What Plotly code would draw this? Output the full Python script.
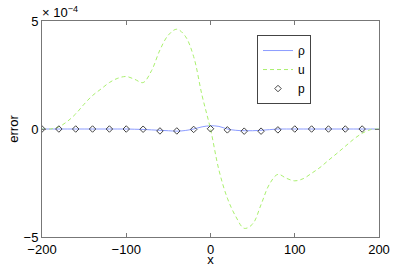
import plotly.graph_objects as go

# data (values in units of 1e-4)
x_line = [-200, -190, -180, -170, -160, -150, -140, -130, -120, -110, -100, -90, -80, -70,
          -60, -50, -40, -30, -20, -10, 0, 10, 20, 30, 40, 50, 60, 70, 80, 90, 100,
          110, 120, 130, 140, 150, 160, 170, 180, 190, 200]
u_vals = [0.0, 0.0, 0.1, 0.35, 0.7, 1.15, 1.55, 1.85, 2.15, 2.35, 2.43, 2.3, 2.15, 2.7,
          3.66, 4.35, 4.62, 4.3, 3.35, 1.55, 0.0, -1.9, -3.2, -4.05, -4.6, -4.4, -3.5, -2.55, -2.1, -2.28, -2.4,
          -2.3, -2.05, -1.78, -1.45, -1.13, -0.8, -0.47, -0.2, -0.03, 0.0]
rho_vals = [0, 0, 0, 0, 0, 0, 0, 0, 0, 0, 0, -0.01, -0.02, -0.04,
            -0.06, -0.08, -0.1, -0.07, 0.0, 0.1, 0.15, 0.12, 0.0, -0.06, -0.08, -0.08, -0.06, -0.03, 0.0, 0.0, 0.0,
            0, 0, 0, 0, 0, 0, 0, 0, 0, 0]
x_p = [-200, -180, -160, -140, -120, -100, -80, -60, -40, -20, 0, 20, 40, 60, 80, 100, 120, 140, 160, 180]
p_vals = [0, 0, 0, 0, 0, 0, -0.01, -0.09, -0.09, -0.02, 0.01, -0.04, -0.1, -0.1, -0.04, 0, 0, 0, 0, 0]
scale = 1e-4

x_ticks = [-200, -100, 0, 100, 200]
y_ticks = [-5, 0, 5]
y_tick_text = ["\u22125", "0", "5"]
x_tick_text = ["\u2212200", "\u2212100", "0", "100", "200"]

font = "Liberation Sans, Arial, sans-serif"

fig = go.Figure()
fig.add_trace(go.Scatter(x=x_line, y=[v * scale for v in rho_vals], mode="lines", name="\u03c1",
                         line=dict(color="#8c9cff", width=1, shape="spline")))
fig.add_trace(go.Scatter(x=x_line, y=[v * scale for v in u_vals], mode="lines", name="u",
                         line=dict(color="#aaf06e", width=1, dash="4px,3px", shape="spline")))
fig.add_trace(go.Scatter(x=x_p, y=[v * scale for v in p_vals], mode="markers", name="p",
                         marker=dict(symbol="diamond-open", size=5, color="#444444", line=dict(width=1))))

axis_common = dict(showgrid=False, zeroline=False, showline=True, linecolor="#777777", linewidth=1,
                   mirror="ticks", ticks="inside", ticklen=4, tickcolor="#777777", automargin=False,
                   tickfont=dict(family=font, size=13, color="black"))

fig.update_xaxes(range=[-200, 200], tickvals=x_ticks, ticktext=x_tick_text,
                 title=dict(text="x", font=dict(family=font, size=13, color="black"), standoff=2),
                 **axis_common)
fig.update_yaxes(range=[-5 * scale, 5 * scale], tickvals=[v * scale for v in y_ticks], ticktext=y_tick_text,
                 title=dict(text="error", font=dict(family=font, size=13, color="black"), standoff=2),
                 **axis_common)

fig.add_annotation(x=0, y=1, xref="paper", yref="paper", xanchor="left", yanchor="bottom",
                   text="\u00d7 10<sup>\u22124</sup>", showarrow=False, xshift=-2, yshift=-1,
                   font=dict(family=font, size=13, color="black"))

fig.update_layout(
    width=395, height=267,
    margin=dict(l=42, r=16, t=21, b=30),
    paper_bgcolor="white", plot_bgcolor="white",
    showlegend=True,
    legend=dict(x=0.638, y=0.935, xanchor="left", yanchor="top", bgcolor="white",
                bordercolor="#444444", borderwidth=1, font=dict(family=font, size=12, color="black"),
                tracegroupgap=0, itemwidth=30),
)

fig.write_html("out.html", config={"displayModeBar": False},
               post_script="document.body.style.margin='0';")
